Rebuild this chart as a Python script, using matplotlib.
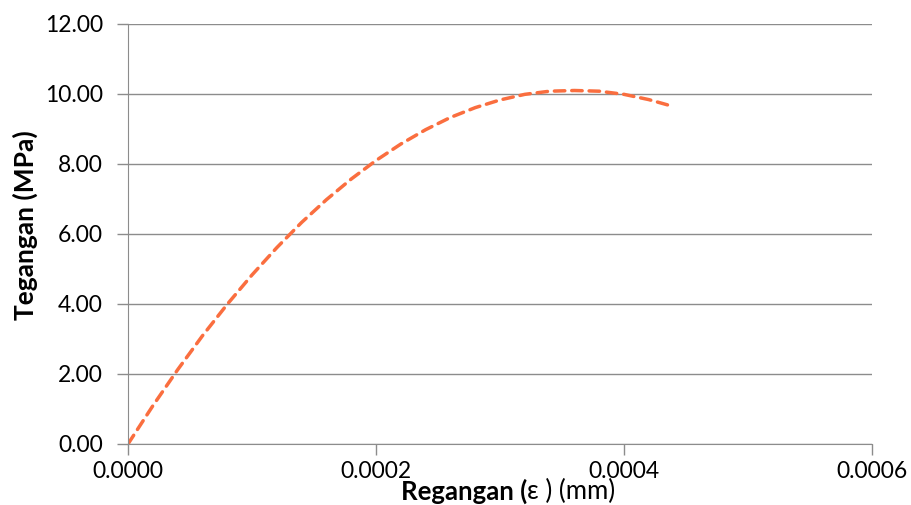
import matplotlib
matplotlib.use("Agg")
import matplotlib.pyplot as plt

# data
strain = [0, 0.00002, 0.00004, 0.00006, 0.00008, 0.0001, 0.00012, 0.00014,
          0.00016, 0.00018, 0.0002, 0.00022, 0.00024, 0.00026, 0.00028,
          0.0003, 0.00032, 0.00034, 0.00036, 0.00038, 0.0004, 0.00042, 0.00044]
stress = [0, 1.09, 2.12, 3.09, 3.99, 4.83, 5.61, 6.33,
          6.98, 7.57, 8.10, 8.57, 8.98, 9.33, 9.61,
          9.83, 9.99, 10.08, 10.10, 10.08, 9.99, 9.84, 9.64]
x_ticks = [0, 0.0002, 0.0004, 0.0006]
y_ticks = [0, 2, 4, 6, 8, 10, 12]

plt.rcParams['font.family'] = ['Lato', 'DejaVu Sans']

fig = plt.figure(figsize=(9.12, 5.05), dpi=100)
ax = fig.add_axes([128 / 912, 1 - 444 / 505, 744 / 912, 420 / 505])

ax.plot(strain, stress, color='#FA6E3F', lw=2.5, dashes=(3, 2), dash_capstyle='round')

ax.set_xlim(0, 0.0006)
ax.set_ylim(0, 12)
ax.set_xticks(x_ticks)
ax.set_xticklabels([f"{v:.4f}" for v in x_ticks])
ax.set_yticks(y_ticks)
ax.set_yticklabels([f"{v:.2f}" for v in y_ticks])
ax.yaxis.grid(True, color='#8c8c8c', lw=1)
ax.set_axisbelow(True)
for s in ['top', 'right']:
    ax.spines[s].set_visible(False)
for s in ['left', 'bottom']:
    ax.spines[s].set_color('#8c8c8c')
ax.tick_params(axis='both', colors='#8c8c8c', labelcolor='black', labelsize=16.5, length=8, width=1)
ax.tick_params(axis='x', pad=4)
ax.tick_params(axis='y', pad=10)

fig.text(25 / 912, 1 - 225 / 505, "Tegangan (MPa)", rotation=90, ha='center', va='center',
         fontsize=19, fontweight='bold')
fig.text(527 / 912, 1 - 491 / 505, "Regangan (", ha='right', va='center',
         fontsize=18.5, fontweight='bold')
fig.text(527 / 912, 1 - 491 / 505, "ε ) (mm)", ha='left', va='center', fontsize=18.5)

fig.savefig("out.png", dpi=100)
